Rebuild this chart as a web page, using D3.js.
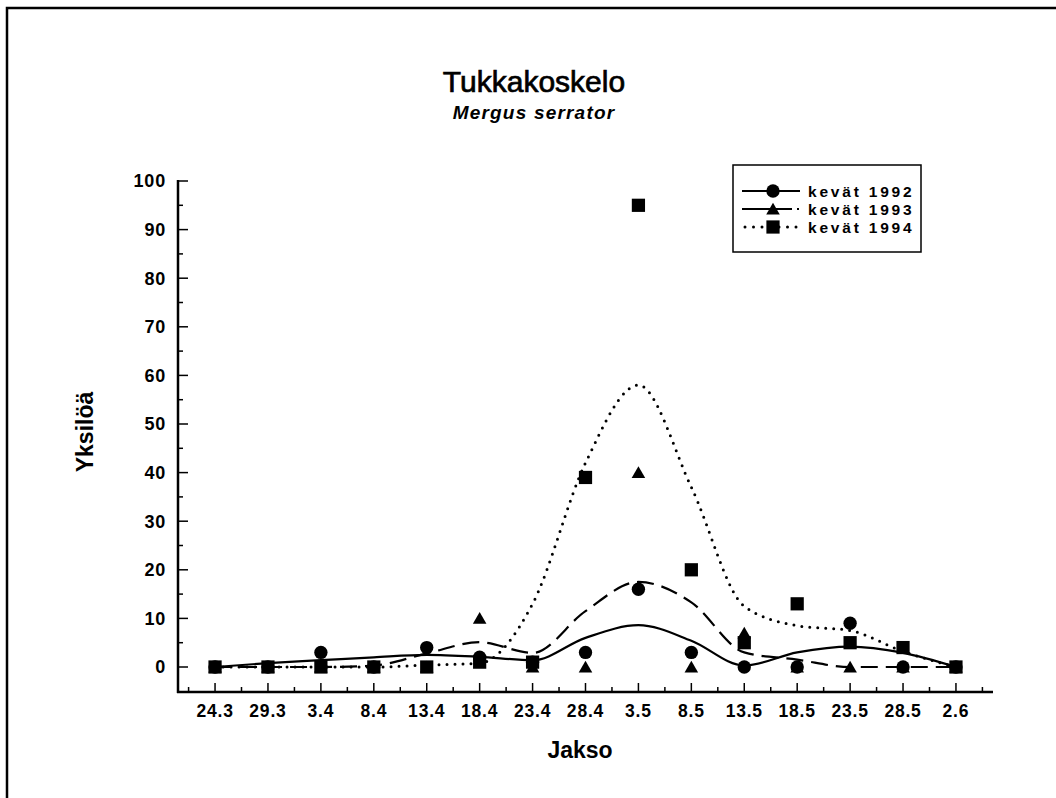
<!DOCTYPE html>
<html>
<head>
<meta charset="utf-8">
<script src="https://cdn.jsdelivr.net/npm/d3@7"></script>
<style>
  html, body { margin: 0; padding: 0; background: #fff; }
  svg { display: block; font-family: "Liberation Sans", Arial, Helvetica, sans-serif; }
</style>
</head>
<body>
<div id="chart"></div>
<script>
// Sampling periods (Jakso)
const periods = ['24.3', '29.3', '3.4', '8.4', '13.4', '18.4', '23.4', '28.4',
  '3.5', '8.5', '13.5', '18.5', '23.5', '28.5', '2.6'];

// Observed counts per period
const counts1992 = [0, 0, 3, 0, 4, 2, 1, 3, 16, 3, 0, 0, 9, 0, 0];
const counts1993 = [0, 0, 0, 0, 0, 10, 0, 0, 40, 0, 7, 0, 0, 0, 0];
const counts1994 = [0, 0, 0, 0, 0, 1, 1, 39, 95, 20, 5, 13, 5, 4, 0];

// Smoothed trend lines at each period
const trend1992 = [0, 0.8, 1.4, 2, 2.5, 2.1, 1.4, 6, 8.6, 5.4, 0.3, 3, 4.2, 2.9, 0];
const trend1993 = [0, 0, 0, 0.3, 2.8, 5.1, 2.9, 11.5, 17.5, 13.3, 3, 1.5, 0, 0, 0];
const trend1994 = [0, 0, 0, 0, 0.4, 0.8, 13, 42, 58, 37, 12.5, 8.5, 7.5, 3.2, 0];

const seriesNames = ['kevät 1992', 'kevät 1993', 'kevät 1994'];
const yTicks = [0, 10, 20, 30, 40, 50, 60, 70, 80, 90, 100];

const series = [
  { name: seriesNames[0], counts: counts1992, trend: trend1992, symbol: d3.symbolCircle, size: 140,
    dash: null, legendDash: null, cap: 'butt' },
  { name: seriesNames[1], counts: counts1993, trend: trend1993, symbol: d3.symbolTriangle, size: 80,
    dash: '17 8', legendDash: '50 5 2 20', cap: 'butt' },
  { name: seriesNames[2], counts: counts1994, trend: trend1994, symbol: d3.symbolSquare, size: 175,
    dash: '0 8', legendDash: '0 8.5', cap: 'round' }
];

const W = 1056, H = 798;
const svg = d3.select('#chart').append('svg')
  .attr('width', W).attr('height', H);

// page frame (top and left edges of the scanned page)
svg.append('path')
  .attr('d', `M7,${H} V8 H${W}`)
  .attr('fill', 'none').attr('stroke', '#000').attr('stroke-width', 2.5);

const x = d3.scaleLinear().domain([-0.7, 14.7]).range([178, 993]);
const y = d3.scaleLinear().domain([0, 100]).range([667, 181]);
const axisY = 692;

// Titles
svg.append('text')
  .attr('x', 534).attr('y', 92)
  .attr('text-anchor', 'middle')
  .attr('font-size', '30px')
  .attr('stroke', '#000').attr('stroke-width', 0.7)
  .text('Tukkakoskelo');

svg.append('text')
  .attr('x', 534).attr('y', 119)
  .attr('text-anchor', 'middle')
  .attr('font-size', '19px')
  .attr('font-style', 'italic')
  .attr('font-weight', 'bold')
  .attr('letter-spacing', '1.2px')
  .text('Mergus serrator');

// Y axis
const gy = svg.append('g');
gy.append('line')
  .attr('x1', 178).attr('x2', 178)
  .attr('y1', y(100) - 1).attr('y2', axisY + 1)
  .attr('stroke', '#000').attr('stroke-width', 2.5);

gy.selectAll('line.minor')
  .data(d3.range(0, 101, 5))
  .join('line')
  .attr('class', 'minor')
  .attr('x1', 178)
  .attr('x2', d => d % 10 === 0 ? 188 : 183)
  .attr('y1', d => y(d)).attr('y2', d => y(d))
  .attr('stroke', '#000').attr('stroke-width', 1.5);

gy.selectAll('text')
  .data(yTicks)
  .join('text')
  .attr('x', 166)
  .attr('y', d => y(d))
  .attr('dy', '0.36em')
  .attr('text-anchor', 'end')
  .attr('font-size', '18px')
  .attr('font-weight', 'bold')
  .attr('letter-spacing', '0.8px')
  .text(d => d);

// X axis
const gx = svg.append('g');
gx.append('line')
  .attr('x1', 177).attr('x2', 993)
  .attr('y1', axisY).attr('y2', axisY)
  .attr('stroke', '#000').attr('stroke-width', 2.5);

gx.selectAll('line.major')
  .data(periods)
  .join('line')
  .attr('class', 'major')
  .attr('x1', (d, i) => x(i)).attr('x2', (d, i) => x(i))
  .attr('y1', axisY).attr('y2', axisY - 9)
  .attr('stroke', '#000').attr('stroke-width', 1.5);

gx.selectAll('line.minor')
  .data(d3.range(-0.5, 15, 1))
  .join('line')
  .attr('class', 'minor')
  .attr('x1', d => x(d)).attr('x2', d => x(d))
  .attr('y1', axisY).attr('y2', axisY - 5)
  .attr('stroke', '#000').attr('stroke-width', 1.5);

gx.selectAll('text')
  .data(periods)
  .join('text')
  .attr('x', (d, i) => x(i))
  .attr('y', 717)
  .attr('text-anchor', 'middle')
  .attr('font-size', '17.5px')
  .attr('font-weight', 'bold')
  .attr('letter-spacing', '0.8px')
  .text(d => d);

// Axis titles
svg.append('text')
  .attr('x', 580).attr('y', 758)
  .attr('text-anchor', 'middle')
  .attr('font-size', '23px')
  .attr('font-weight', 'bold')
  .text('Jakso');

svg.append('text')
  .attr('transform', 'translate(93,432) rotate(-90)')
  .attr('text-anchor', 'middle')
  .attr('font-size', '23px')
  .attr('font-weight', 'bold')
  .text('Yksilöä');

// Trend lines
const line = d3.line()
  .x((d, i) => x(i))
  .y(d => y(d))
  .curve(d3.curveMonotoneX);

const plot = svg.append('g');
series.forEach(s => {
  plot.append('path')
    .datum(s.trend)
    .attr('d', line)
    .attr('fill', 'none')
    .attr('stroke', '#000')
    .attr('stroke-width', s.cap === 'round' ? 3 : 2.2)
    .attr('stroke-linecap', s.cap)
    .attr('stroke-dasharray', s.dash);
});

// Markers
const symPath = s => d3.symbol().type(s.symbol).size(s.size)();
const symOffset = s => s.symbol === d3.symbolTriangle ? 1.5 : 0;

series.forEach(s => {
  plot.selectAll(null)
    .data(s.counts)
    .join('path')
    .attr('d', symPath(s))
    .attr('transform', (d, i) => `translate(${x(i)},${y(d) + symOffset(s)})`)
    .attr('fill', '#000');
});

// Legend
const lg = svg.append('g').attr('transform', 'translate(733,165)');
lg.append('rect')
  .attr('width', 188).attr('height', 87)
  .attr('fill', '#fff')
  .attr('stroke', '#000').attr('stroke-width', 1.5);

series.forEach((s, i) => {
  const row = lg.append('g').attr('transform', `translate(0,${26 + i * 18})`);
  row.append('line')
    .attr('x1', s.cap === 'round' ? 12 : 9).attr('x2', 67)
    .attr('y1', 0).attr('y2', 0)
    .attr('stroke', '#000')
    .attr('stroke-width', s.cap === 'round' ? 3 : 2.2)
    .attr('stroke-linecap', s.cap)
    .attr('stroke-dasharray', s.legendDash);
  row.append('path')
    .attr('d', symPath(s))
    .attr('transform', `translate(40,${symOffset(s)})`)
    .attr('fill', '#000');
  row.append('text')
    .attr('x', 75).attr('y', 0)
    .attr('dy', '0.36em')
    .attr('font-size', '15.5px')
    .attr('font-weight', 'bold')
    .attr('letter-spacing', '2.8px')
    .text(s.name);
});
</script>
</body>
</html>
